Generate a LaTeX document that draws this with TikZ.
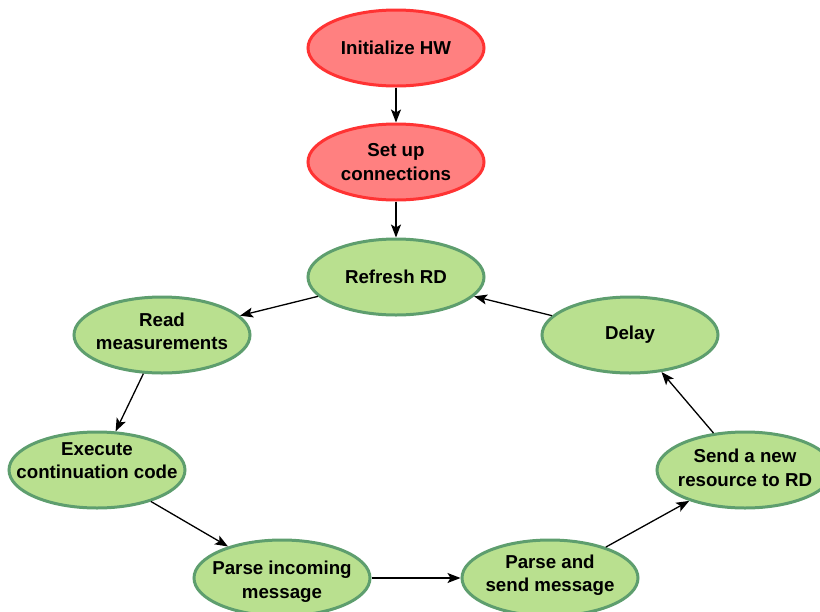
\documentclass[tikz,border=0pt]{standalone}
\usepackage{fontspec}
\setmainfont{Liberation Sans}
\usetikzlibrary{shapes.geometric,arrows.meta}

\definecolor{redfill}{HTML}{FF8080}
\definecolor{redline}{HTML}{FF3333}
\definecolor{greenfill}{HTML}{B9E08F}
\definecolor{greenline}{HTML}{5E9E6E}

\tikzset{
  % #1 = text, #2 = vertical offset of the text inside the ellipse
  blob/.style n args={2}{ellipse, minimum width=176, minimum height=76,
    inner sep=0pt, line width=3pt,
    label={[font=\bfseries\fontsize{18.7}{23.5}\selectfont, align=center,
            text=black, yshift=#2]center:#1}},
  startblob/.style n args={2}{blob={#1}{#2}, draw=redline, fill=redfill},
  loopblob/.style n args={2}{blob={#1}{#2}, draw=greenline, fill=greenfill},
  flow/.style={draw=black, line width=1.3pt,
    -{Stealth[length=13pt, width=10pt, inset=3pt]}},
}

\begin{document}
\begin{tikzpicture}[x=1pt, y=-1pt]
  \useasboundingbox (0,0) rectangle (820,611);

  % start-up steps
  \node[startblob={Initialize HW}{0pt}] (init) at (396,48) {};
  \node[startblob={Set up\\connections}{0pt}] (setup) at (396,162) {};

  % main loop
  \node[loopblob={Refresh RD}{0pt}] (refresh) at (396,277) {};
  \node[loopblob={Read\\measurements}{3.5pt}] (read) at (162,335) {};
  \node[loopblob={Delay}{0pt}] (delay) at (630,335) {};
  \node[loopblob={Execute\\continuation code}{9.5pt}] (exec) at (97,470) {};
  \node[loopblob={Send a new\\resource to RD}{2pt}] (sendres) at (745,470) {};
  \node[loopblob={Parse incoming\\message}{-3.5pt}] (parsein) at (282,578) {};
  \node[loopblob={Parse and\\send message}{3pt}] (parsesend) at (550,578) {};

  % connectors
  \draw[flow] (init) -- (setup);
  \draw[flow] (setup) -- (refresh);
  \draw[flow] (refresh) -- (read);
  \draw[flow] (read) -- (exec);
  \draw[flow] (exec) -- (parsein);
  \draw[flow] (parsein) -- (parsesend);
  \draw[flow] (parsesend) -- (sendres);
  \draw[flow] (sendres) -- (delay);
  \draw[flow] (delay) -- (refresh);
\end{tikzpicture}
\end{document}
